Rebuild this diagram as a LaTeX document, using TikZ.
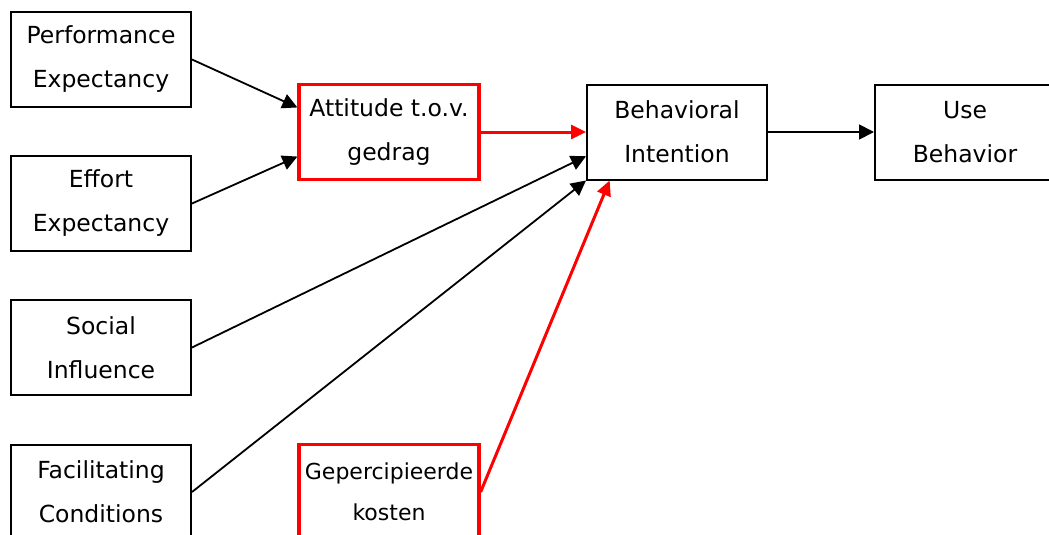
\documentclass[tikz,border=0pt]{standalone}
\usepackage{fontspec}
\setmainfont{DejaVu Sans}
\usetikzlibrary{arrows.meta,calc}
\definecolor{hl}{RGB}{255,0,0}
\tikzset{
  box/.style={draw=black, line width=2pt, minimum width=180pt, minimum height=95pt,
    inner sep=0pt, align=center, font=\fontsize{23.5}{44}\selectfont},
  redbox/.style={box, draw=hl, line width=3.2pt},
  link/.style={draw=black, line width=1.8pt, -{Triangle[length=15pt,width=15pt]}},
  redlink/.style={draw=hl, line width=3pt, -{Triangle[length=15pt,width=14pt]}}
}
\begin{document}
\begin{tikzpicture}[x=1pt, y=-1pt]
  \useasboundingbox (0,0) rectangle (1049,535);
  \clip (0,0) rectangle (1049,535);
  \fill[white] (0,0) rectangle (1049,535);

  % predictor constructs
  \node[box] (pe) at (101,59.5) {Performance\\Expectancy};
  \node[box] (ee) at (101,203.5) {Effort\\Expectancy};
  \node[box] (si) at (101,347.5) {Social\\Influence};
  \node[box] (fc) at (101,492) {Facilitating\\Conditions};

  % added constructs
  \node[redbox] (att) at (389,132) {Attitude t.o.v.\\gedrag};
  \node[redbox, font=\fontsize{22}{41}\selectfont] (kos) at (389,492) {Gepercipieerde\\kosten};

  % outcome constructs
  \node[box] (bi) at (677,132) {Behavioral\\Intention};
  \node[box] (ub) at (965,132) {Use\\Behavior};

  % connectors
  \draw[link] (pe.east) -- ($(att.north west)!0.25!(att.south west)$);
  \draw[link] (ee.east) -- ($(att.north west)!0.75!(att.south west)$);
  \draw[redlink] (att.east) -- (bi.west);
  \draw[link] (si.east) -- ($(bi.north west)!0.75!(bi.south west)$);
  \draw[link] (fc.east) -- (bi.south west);
  \draw[redlink] (kos.east) -- ($(bi.south west)!0.13!(bi.south east)$);
  \draw[link] (bi.east) -- (ub.west);
\end{tikzpicture}
\end{document}
